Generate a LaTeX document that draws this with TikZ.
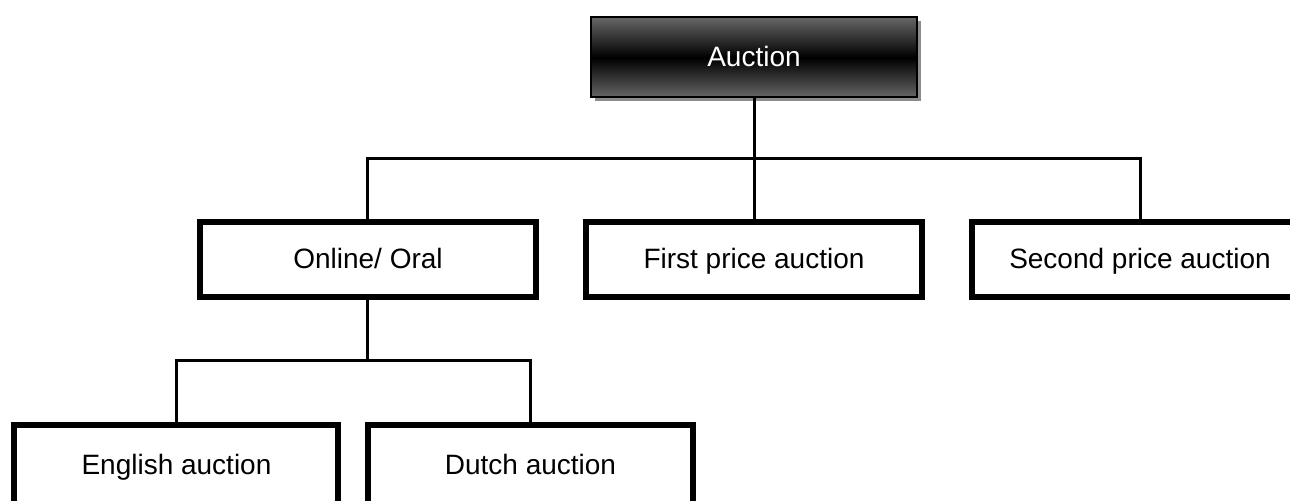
\documentclass[tikz,border=0pt]{standalone}
\usepackage{fontspec}
\setmainfont{Liberation Sans}
\usepackage{tikz}
\usetikzlibrary{calc,shadows}

\begin{document}
\begin{tikzpicture}[
		level distance=101pt,
		level 1/.style={sibling distance=193pt},
		level 2/.style={sibling distance=177pt,level distance=102.75pt},
		every node/.style={font=\fontsize{14}{17}\selectfont,text height=11.5pt,text depth=2pt},
		plainbox/.style={rectangle,draw,line width=3pt,fill=white,minimum width=168pt,minimum height=37.5pt},
		topbox/.style={rectangle,draw,line width=1pt,text=white,minimum width=163pt,minimum height=40pt,
			top color=black!60,bottom color=black!60,middle color=black,
			drop shadow={shadow xshift=2pt,shadow yshift=-2pt,fill=black!45,opacity=1}},
		edge from parent/.style={draw,line width=1.5pt},
		edge from parent path={(\tikzparentnode.south) |- ($(\tikzparentnode.south)!.5!(\tikzchildnode.north)$) -| (\tikzchildnode.north)}]
		
		\useasboundingbox (-377pt,28.75pt) rectangle (268pt,-221.75pt);
		\node[topbox] (root) {Auction}
		child { node[plainbox] (node-online) {Online/ Oral}
			child { node[plainbox,minimum width=162pt,minimum height=40pt,xshift=-7.25pt] (node-english) {English auction}}
			child { node[plainbox,minimum width=162pt,minimum height=40pt,xshift=-7.25pt] (node-dutch) {Dutch auction}}}
		child { node[plainbox] (node-first) {First price auction}}
		child { node[plainbox] (node-second) {Second price auction}};
\end{tikzpicture}
\end{document}
